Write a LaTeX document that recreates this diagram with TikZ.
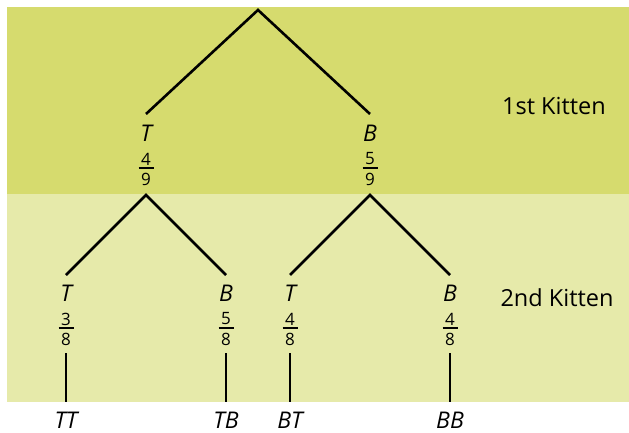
\documentclass[tikz,border=0pt]{standalone}
\usepackage{fontspec}
\setmainfont{Open Sans}
\definecolor{topband}{RGB}{214,219,110}
\definecolor{lowband}{RGB}{230,234,170}
\tikzset{
  lab/.style={font=\fontsize{23}{27}\selectfont\itshape, inner sep=0pt},
  dig/.style={font=\fontsize{17}{19}\selectfont, inner sep=0pt},
  lvl/.style={font=\fontsize{23.5}{27}\selectfont, inner sep=0pt},
  edge/.style={line width=2.6pt, line join=miter},
  fbar/.style={line width=1.1pt}
}
% #1 name, #2 x, #3 y of letter centre, #4 letter, #5 num, #6 den
\newcommand\branchlab[6]{%
  \node[lab] (#1) at (#2,#3) {#4};
  \node[dig] (#1n) at (#2,#3+25.5) {#5};
  \node[dig] (#1d) at (#2,#3+45.5) {#6};
  \draw[fbar] (#2-7.5,#3+34.5) -- (#2+7.5,#3+34.5);
}
\begin{document}
\begin{tikzpicture}[x=1pt,y=-1pt]
\useasboundingbox (0,0) rectangle (629,433);
\fill[topband] (7,7) rectangle (629,194);
\fill[lowband] (7,194) rectangle (629,402);

\node[lvl] (k1) at (554,106) {1st Kitten};
\node[lvl] (k2) at (557,298) {2nd Kitten};

\coordinate (root) at (258,10);
% level 1
\coordinate (Tin) at (146,114);
\coordinate (Bin) at (370,114);
\coordinate (Tout) at (146,195);
\coordinate (Bout) at (370,195);
\branchlab{T}{146}{133.5}{T}{4}{9}
\branchlab{B}{370}{133.5}{B}{5}{9}
\draw[edge] (Tin) -- (root) -- (Bin);

% level 2
\coordinate (TTin) at (66,275);
\coordinate (TBin) at (226,275);
\coordinate (BTin) at (290,275);
\coordinate (BBin) at (450,275);
\draw[edge] (TTin) -- (Tout) -- (TBin);
\draw[edge] (BTin) -- (Bout) -- (BBin);
\branchlab{TT}{66}{293.5}{T}{3}{8}
\branchlab{TB}{226}{293.5}{B}{5}{8}
\branchlab{BT}{290}{293.5}{T}{4}{8}
\branchlab{BB}{450}{293.5}{B}{4}{8}

% leaves
\foreach \n/\x in {TT/66, TB/226, BT/290, BB/450}{
  \coordinate (\n top) at (\x,353);
  \coordinate (\n bot) at (\x,402);
  \draw[edge] (\n top) -- (\n bot);
}
\node[lab] (leafTT) at (66,420) {TT};
\node[lab] (leafTB) at (226,420) {TB};
\node[lab] (leafBT) at (290,420) {BT};
\node[lab] (leafBB) at (450,420) {BB};
\end{tikzpicture}
\end{document}
